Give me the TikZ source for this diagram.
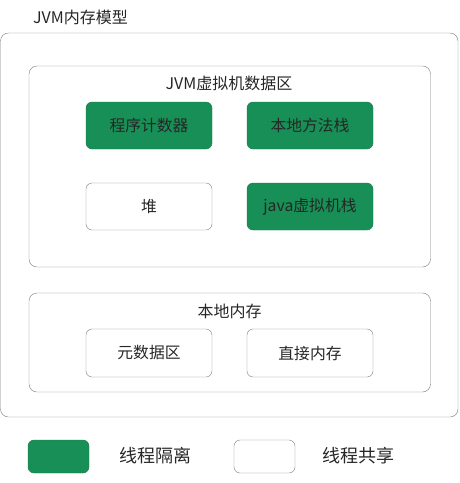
\documentclass[tikz,border=0pt]{standalone}
\usepackage{fontspec}
\setmainfont{Noto Sans CJK SC}
\usetikzlibrary{shapes,calc}
\definecolor{iso}{RGB}{24,143,86}
\definecolor{frame}{RGB}{125,125,125}
\begin{document}
\begin{tikzpicture}[x=1pt,y=-1pt]
    \tikzset{box/.style={draw=frame,rounded corners=6pt,minimum width=126pt,minimum height=47pt,inner sep=0pt,font=\fontsize{15.8}{18}\selectfont,text=black!85},
        priv/.style={box,fill=iso,draw=iso!85!black},
        area/.style={draw=frame,rounded corners=8pt,inner sep=0pt},
        caption/.style={inner sep=0pt,font=\fontsize{16}{19}\selectfont,text=black!85}};
    \useasboundingbox (0,0) rectangle (459,483);
	\node (jvm) at (229.25,225) [area,minimum width=457.5pt,minimum height=384pt]{};
	\node (jvmT) at (80.5,17) [caption]{JVM内存模型};
	\node (data) at (229.75,166.5) [area,minimum width=401.5pt,minimum height=201pt]{};
	\node (dataT) at (229,83) [caption]{JVM虚拟机数据区};
	\node (pc) at (149,125.5) [priv]{程序计数器};
	\node (nstack) at (310,125.5) [priv]{本地方法栈};
	\node (heap) at (149,206.5) [box]{堆};
	\node (jstack) at (310,206.5) [priv]{java虚拟机栈};
	\node (local) at (229.75,342.5) [area,minimum width=401.5pt,minimum height=99pt]{};
	\node (localT) at (229.5,311) [caption]{本地内存};
	\node (meta) at (149,353) [box,minimum height=48pt]{元数据区};
	\node (direct) at (310,353) [box,minimum height=48pt]{直接内存};
	\node (keyA) at (58.5,456.5) [priv,minimum width=61pt,minimum height=33pt]{};
	\node (keyAT) at (155,456) [caption,font=\fontsize{18}{21}\selectfont]{线程隔离};
	\node (keyB) at (264.5,456.5) [box,minimum width=61pt,minimum height=33pt]{};
	\node (keyBT) at (358,456) [caption,font=\fontsize{18}{21}\selectfont]{线程共享};
\end{tikzpicture}
\end{document}
